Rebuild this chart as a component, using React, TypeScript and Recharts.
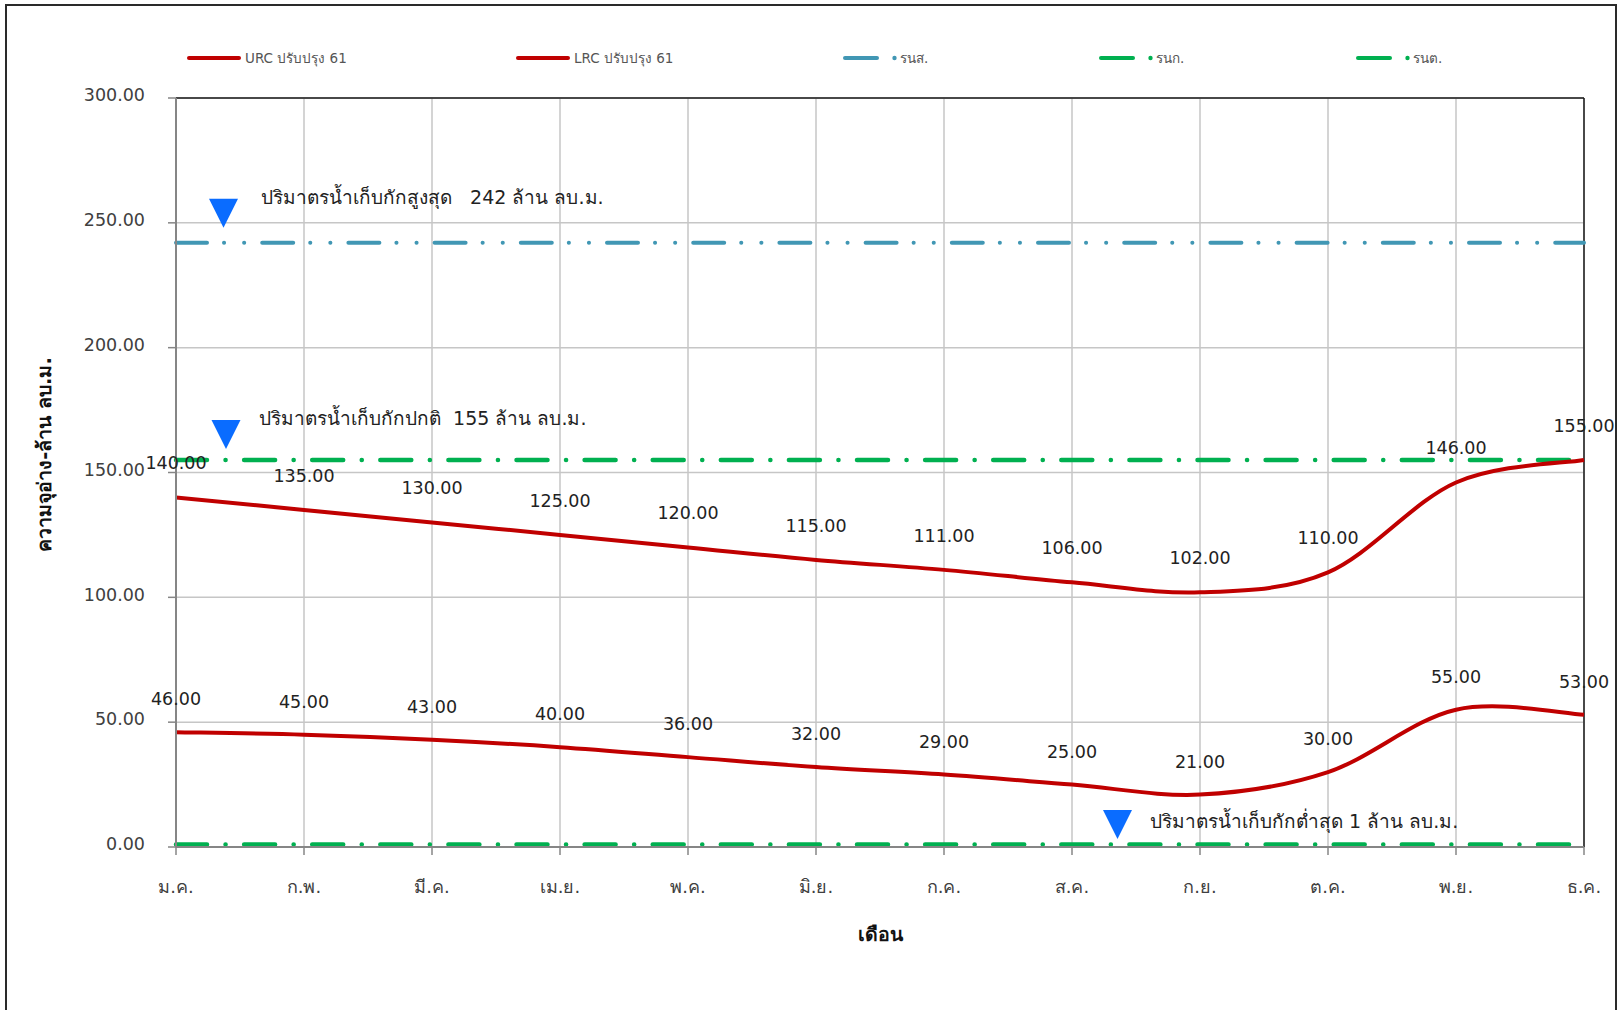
import React from 'react';
import { LineChart, Line, XAxis, YAxis, CartesianGrid, ReferenceLine, ReferenceDot, LabelList, Label } from 'recharts';

const MONTHS = ['ม.ค.', 'ก.พ.', 'มี.ค.', 'เม.ย.', 'พ.ค.', 'มิ.ย.', 'ก.ค.', 'ส.ค.', 'ก.ย.', 'ต.ค.', 'พ.ย.', 'ธ.ค.'];
const URC = [140, 135, 130, 125, 120, 115, 111, 106, 102, 110, 146, 155];
const LRC = [46, 45, 43, 40, 36, 32, 29, 25, 21, 30, 55, 53];
const RNS = [242, 242, 242, 242, 242, 242, 242, 242, 242, 242, 242, 242];
const RNK = [155, 155, 155, 155, 155, 155, 155, 155, 155, 155, 155, 155];
const RNT = [1, 1, 1, 1, 1, 1, 1, 1, 1, 1, 1, 1];
const Y_TICKS = [0, 50, 100, 150, 200, 250, 300];
const SERIES_NAMES = ['URC ปรับปรุง 61', 'LRC ปรับปรุง 61', 'รนส.', 'รนก.', 'รนต.'];
const ANNO_TEXT = ['ปริมาตรน้ำเก็บกักสูงสุด   242 ล้าน ลบ.ม.', 'ปริมาตรน้ำเก็บกักปกติ  155 ล้าน ลบ.ม.', 'ปริมาตรน้ำเก็บกักต่ำสุด 1 ล้าน ลบ.ม.'];
const ANNO_MONTH = ['ม.ค.', 'ม.ค.', 'ส.ค.'];
const ANNO_VALUE = [242, 155, 1];
const Y_TITLE = 'ความจุอ่าง-ล้าน ลบ.ม.';
const X_TITLE = 'เดือน';

const data = MONTHS.map((m, i) => ({ month: m, urc: URC[i], lrc: LRC[i], rns: RNS[i], rnk: RNK[i], rnt: RNT[i] }));

const FONT = "'DejaVu Sans', Tahoma, sans-serif";
const RED = '#C00000';
const BLUE = '#4197B4';
const GREEN = '#00B050';
const TRI = '#0A6CFF';

// Excel-like smoothed line (Catmull-Rom through points)
const excelSmooth: any = (context: any) => {
  let pts: number[][] = [];
  return {
    areaStart() {},
    areaEnd() {},
    lineStart() { pts = []; },
    point(x: number, y: number) { pts.push([+x, +y]); },
    lineEnd() {
      const n = pts.length;
      if (n === 0) return;
      context.moveTo(pts[0][0], pts[0][1]);
      for (let i = 0; i < n - 1; i++) {
        const p0 = pts[Math.max(i - 1, 0)];
        const p1 = pts[i];
        const p2 = pts[i + 1];
        const p3 = pts[Math.min(i + 2, n - 1)];
        context.bezierCurveTo(
          p1[0] + (p2[0] - p0[0]) / 6, p1[1] + (p2[1] - p0[1]) / 6,
          p2[0] - (p3[0] - p1[0]) / 6, p2[1] - (p3[1] - p1[1]) / 6,
          p2[0], p2[1]
        );
      }
    },
  };
};

const ANNO_LAYOUT = [
  { dx: 47.5, dy: -30, tdx: 85, tdy: -39 },
  { dx: 50, dy: -26, tdx: 83, tdy: -35 },
  { dx: 45.5, dy: -20.5, tdx: 78, tdy: -17 },
];

const makeAnno = (i: number) => (props: any) => {
  const { cx, cy } = props;
  const L = ANNO_LAYOUT[i];
  const tx = cx + L.dx;
  const ty = cy + L.dy;
  return (
    <g>
      <path d={`M${tx - 14.5},${ty - 14} L${tx + 14.5},${ty - 14} L${tx},${ty + 15} Z`} fill={TRI} />
      <text x={cx + L.tdx} y={cy + L.tdy} fontSize={19} fill="#222" fontFamily={FONT} style={{ whiteSpace: 'pre' }}>
        {ANNO_TEXT[i]}
      </text>
    </g>
  );
};

const YTitle = (props: any) => {
  const vb = props.viewBox || {};
  const x = vb.x - 52;
  const y = vb.y + vb.height / 2 - 18;
  return (
    <text x={x} y={y} transform={`rotate(-90, ${x}, ${y})`} textAnchor="middle" dominantBaseline="central"
      fontSize={19.5} fontWeight="bold" fill="#111" fontFamily={FONT}>
      {Y_TITLE}
    </text>
  );
};

const XTitle = (props: any) => {
  const vb = props.viewBox || {};
  const x = vb.x + vb.width / 2;
  const y = vb.y + 87;
  return (
    <text x={x} y={y} textAnchor="middle" dominantBaseline="central"
      fontSize={19.5} fontWeight="bold" fill="#111" fontFamily={FONT}>
      {X_TITLE}
    </text>
  );
};

const LEG_X = [187, 516, 843, 1099, 1356];
const LEG_COLORS = [RED, RED, BLUE, GREEN, GREEN];

const LegendSvg = () => (
  <svg width={1619} height={100} style={{ position: 'absolute', left: 0, top: 0 }}>
    {SERIES_NAMES.map((name, i) => {
      const x = LEG_X[i];
      const y = 58;
      const solid = i < 2;
      return (
        <g key={name}>
          {solid ? (
            <line x1={x + 2} y1={y} x2={x + 52} y2={y} stroke={LEG_COLORS[i]} strokeWidth={4} strokeLinecap="round" />
          ) : (
            <>
              <line x1={x + 2} y1={y} x2={x + 34} y2={y} stroke={LEG_COLORS[i]} strokeWidth={4} strokeLinecap="round" />
              <circle cx={x + 51.5} cy={y} r={2.2} fill={LEG_COLORS[i]} />
            </>
          )}
          <text x={solid ? x + 58 : x + 57} y={y} dominantBaseline="central" fontSize={13.5} fill="#555" fontFamily={FONT}>
            {name}
          </text>
        </g>
      );
    })}
  </svg>
);

const fmt = (v: any) => Number(v).toFixed(2);

export default function App() {
  return (
    <div style={{ position: 'absolute', left: 0, top: 0, width: 1619, height: 1010, overflow: 'hidden', background: '#fff' }}>
      <div style={{ position: 'absolute', left: 5, top: 4, width: 1612, height: 1100, border: '2px solid #2a2a2a', boxSizing: 'border-box' }} />
      <div style={{ position: 'absolute', left: 0, top: 0 }}>
        <LineChart width={1619} height={1010} data={data} margin={{ top: 98, right: 35, bottom: 103, left: 96 }}>
          <CartesianGrid stroke="#c6c6c6" strokeWidth={1.5} />
          <XAxis dataKey="month" height={60} tickSize={8} tickMargin={25}
            axisLine={{ stroke: '#868686', strokeWidth: 2 }} tickLine={{ stroke: '#868686', strokeWidth: 1.5 }}
            tick={{ fontSize: 18, fill: '#404040', fontFamily: FONT }} interval={0}>
            <Label content={<XTitle />} />
          </XAxis>
          <YAxis width={80} domain={[0, 300]} ticks={Y_TICKS} tickFormatter={fmt} tickSize={8} tickMargin={23}
            axisLine={{ stroke: '#868686', strokeWidth: 2 }} tickLine={{ stroke: '#868686', strokeWidth: 1.5 }}
            tick={{ fontSize: 17.5, fill: '#404040', fontFamily: FONT, dy: -3 }} interval={0}>
            <Label content={<YTitle />} />
          </YAxis>
          <ReferenceLine y={300} stroke="#1a1a1a" strokeWidth={1.5} />
          <ReferenceLine x="ธ.ค." stroke="#1a1a1a" strokeWidth={1.5} />
          <Line dataKey="rns" name={SERIES_NAMES[2]} stroke={BLUE} strokeWidth={4} strokeLinecap="round"
            strokeDasharray="31 17 0.1 20 0.1 18" dot={false} activeDot={false} isAnimationActive={false} type="linear" />
          <Line dataKey="rnk" name={SERIES_NAMES[3]} stroke={GREEN} strokeWidth={4.5} strokeLinecap="round"
            strokeDasharray="31 18.5 0.1 18.5" dot={false} activeDot={false} isAnimationActive={false} type="linear" />
          <Line dataKey="rnt" name={SERIES_NAMES[4]} stroke={GREEN} strokeWidth={4.5} strokeLinecap="round"
            strokeDasharray="31 18.5 0.1 18.5" dot={false} activeDot={false} isAnimationActive={false} type="linear" />
          <Line dataKey="urc" name={SERIES_NAMES[0]} stroke={RED} strokeWidth={4} dot={false} activeDot={false}
            isAnimationActive={false} type={excelSmooth}>
            <LabelList dataKey="urc" position="top" offset={28} formatter={fmt}
              style={{ fontSize: 17.5, fill: '#222', fontFamily: FONT }} />
          </Line>
          <Line dataKey="lrc" name={SERIES_NAMES[1]} stroke={RED} strokeWidth={4} dot={false} activeDot={false}
            isAnimationActive={false} type={excelSmooth}>
            <LabelList dataKey="lrc" position="top" offset={27} formatter={fmt}
              style={{ fontSize: 17.5, fill: '#222', fontFamily: FONT }} />
          </Line>
          {ANNO_TEXT.map((t, i) => (
            <ReferenceDot key={t} x={ANNO_MONTH[i]} y={ANNO_VALUE[i]} r={0} shape={makeAnno(i)} ifOverflow="visible" />
          ))}
        </LineChart>
      </div>
      <LegendSvg />
    </div>
  );
}
